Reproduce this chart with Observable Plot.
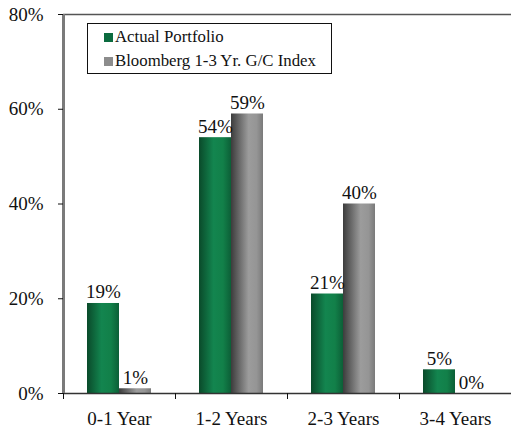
<!DOCTYPE html>
<html><head><meta charset="utf-8">
<script src="https://cdn.jsdelivr.net/npm/d3@7"></script>
<script src="https://cdn.jsdelivr.net/npm/@observablehq/plot@0.6"></script>
<style>
body{margin:0;background:#fff;}
#wrap{position:relative;width:511px;height:430px;font-family:"Times New Roman","Liberation Serif","DejaVu Serif",serif;color:#111;}
#wrap svg text{font-family:"Times New Roman","Liberation Serif","DejaVu Serif",serif;}
.legend{position:absolute;left:87px;top:23px;width:243px;height:49px;border:1.5px solid #111;background:#fff;font-size:16.8px;}
.row{position:absolute;left:16px;display:flex;align-items:center;height:20px;}
.sw{width:9px;height:9px;margin-right:2px;}
</style>
</head><body><div id="wrap"></div>
<script>
const categories = ["0-1 Year","1-2 Years","2-3 Years","3-4 Years"];
const seriesNames = ["Actual Portfolio","Bloomberg 1-3 Yr. G/C Index"];
const actualValues = [19,54,21,5];
const bloombergValues = [1,59,40,0];
const yTicks = [0,20,40,60,80];

const actualData = categories.map((c,i)=>({cat:c, value:actualValues[i]}));
const bloombergData = categories.map((c,i)=>({cat:c, value:bloombergValues[i]}));

const plot = Plot.plot({
  width: 511, height: 430,
  marginLeft: 63, marginRight: 0, marginTop: 14, marginBottom: 37,
  style: {fontFamily: '"Times New Roman", "Liberation Serif", "DejaVu Serif", serif', fontSize: "19px", color: "#111", background: "#fff"},
  x: {domain: categories, padding: 0},
  y: {domain: [0, 80]},
  marks: [
    Plot.barY(actualData, {x: "cat", y: "value", fill: "url(#gradGreen)", insetLeft: 24, insetRight: 56}),
    Plot.barY(bloombergData, {x: "cat", y: "value", fill: "url(#gradGray)", insetLeft: 56, insetRight: 24}),
    Plot.text(actualData, {x: "cat", y: "value", text: d => d.value + "%", dx: -16, dy: -5, lineAnchor: "bottom", fill: "#111"}),
    Plot.text(bloombergData, {x: "cat", y: "value", text: d => d.value + "%", dx: 16, dy: -5, lineAnchor: "bottom", fill: "#111"}),
    Plot.ruleY([80], {stroke: "#555", strokeWidth: 1.5}),
    Plot.ruleY([0], {stroke: "#333", strokeWidth: 1.5}),
    Plot.ruleX([categories[0]], {x: d => d, dx: -56, y1: 0, y2: 80, stroke: "#7a7a7a", strokeWidth: 3}),
    Plot.axisY({ticks: yTicks, tickFormat: d => d + "%", tickSize: 5, tickPadding: 15, label: null, stroke: "#111"}),
    Plot.axisX({tickSize: 6, tickFormat: () => "", dx: -56, label: null, stroke: "#111"}),
    Plot.axisX({tickSize: 0, tickPadding: 18, label: null})
  ]
});

const defs = d3.select(plot).insert("defs", ":first-child");
const g1 = defs.append("linearGradient").attr("id", "gradGreen").attr("x1", "0").attr("x2", "1").attr("y1", "0").attr("y2", "0");
[["0%", "#0a4a2a"], ["45%", "#13854f"], ["75%", "#128049"], ["100%", "#0c5f37"]].forEach(([o, c]) => g1.append("stop").attr("offset", o).attr("stop-color", c));
const g2 = defs.append("linearGradient").attr("id", "gradGray").attr("x1", "0").attr("x2", "1").attr("y1", "0").attr("y2", "0");
[["0%", "#3c3c3c"], ["55%", "#9c9c9c"], ["80%", "#959595"], ["100%", "#7a7a7a"]].forEach(([o, c]) => g2.append("stop").attr("offset", o).attr("stop-color", c));

const wrap = document.getElementById("wrap");
wrap.appendChild(plot);

const legend = document.createElement("div");
legend.className = "legend";
const colors = ["#0b6b3f", "#8c8c8c"];
seriesNames.forEach((name, i) => {
  const row = document.createElement("div");
  row.className = "row";
  row.style.top = (3 + i * 24) + "px";
  const sw = document.createElement("span");
  sw.className = "sw";
  sw.style.background = colors[i];
  const t = document.createElement("span");
  t.textContent = name;
  row.appendChild(sw); row.appendChild(t);
  legend.appendChild(row);
});
wrap.appendChild(legend);
</script>
</body></html>
